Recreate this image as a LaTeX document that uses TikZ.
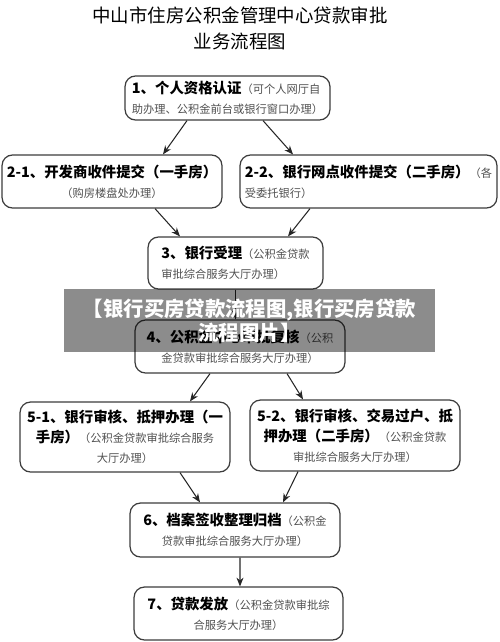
\documentclass[tikz,border=0pt]{standalone}
\usepackage{fontspec}
\setmainfont{Noto Sans CJK SC}
\usetikzlibrary{arrows.meta,calc}
\definecolor{linegray}{RGB}{60,60,60}
\definecolor{notegray}{RGB}{80,80,80}
\newcommand{\gnote}[1]{{\mdseries\fontsize{6.4}{11.5}\selectfont\color{notegray}#1}}

\begin{document}
\begin{tikzpicture}[
	x=0.02cm,y=-0.02cm,
	box/.style={draw=linegray,line width=0.7pt,rounded corners=6pt,inner sep=2pt,
		font=\bfseries\fontsize{8.2}{11.5}\selectfont},
	banner/.style={fill=black,fill opacity=0.45,text opacity=1,text=white,inner sep=0pt,
		align=center,font=\bfseries\fontsize{11.6}{13.6}\selectfont},
	flow/.style={draw=black!85,line width=0.6pt,-{Stealth[length=5pt,width=4pt]}}]
\useasboundingbox (0,0) rectangle (500,642);

\node[font=\fontsize{10.5}{12}\selectfont] (title1) at (240,15) {中山市住房公积金管理中心贷款审批};
\node[font=\fontsize{10.5}{12}\selectfont] (title2) at (240,41) {业务流程图};

\node[box,align=left,minimum width=4.1cm,minimum height=0.88cm] (b1) at (227.5,98)
	{1、个人资格认证\gnote{（可个人网厅自}\\\gnote{助办理、公积金前台或银行窗口办理）}};
\node[box,align=center,minimum width=4.4cm,minimum height=1.06cm] (b21) at (112,181.5)
	{2-1、开发商收件提交（一手房）\\\gnote{（购房楼盘处办理）}};
\node[box,align=left,minimum width=5.14cm,minimum height=1.06cm] (b22) at (368.5,181.5)
	{2-2、银行网点收件提交（二手房）\gnote{（各}\\\gnote{受委托银行）}};
\node[box,align=left,minimum width=3.5cm,minimum height=1.04cm] (b3) at (235.5,263)
	{3、银行受理\gnote{（公积金贷款}\\\gnote{审批综合服务大厅办理）}};
\node[box,align=center,minimum width=4.2cm,minimum height=1.06cm] (b4) at (240,346.5)
	{4、公积金中心审批复核\gnote{（公积}\\\gnote{金贷款审批综合服务大厅办理）}};
\node[box,align=center,minimum width=4.2cm,minimum height=1.4cm] (b51) at (125,437)
	{5-1、银行审核、抵押办理（一\\手房）\gnote{（公积金贷款审批综合服务}\\\gnote{大厅办理）}};
\node[box,align=center,minimum width=4.2cm,minimum height=1.42cm] (b52) at (355,435.5)
	{5-2、银行审核、交易过户、抵\\押办理（二手房）\gnote{（公积金贷款}\\\gnote{审批综合服务大厅办理）}};
\node[box,align=center,minimum width=4.2cm,minimum height=1.08cm] (b6) at (235,530)
	{6、档案签收整理归档\gnote{（公积金}\\\gnote{贷款审批综合服务大厅办理）}};
\node[box,align=center,minimum width=4.18cm,minimum height=1.06cm] (b7) at (238.5,613.5)
	{7、贷款发放\gnote{（公积金贷款审批综}\\\gnote{合服务大厅办理）}};

\draw[flow] ($(b1.south)+(-40.5,0)$) -- ($(b21.north)+(51,0)$);
\draw[flow] ($(b1.south)+(35.5,0)$) -- ($(b22.north)+(-75.5,0)$);
\draw[flow] ($(b21.south)+(43,0)$) -- ($(b3.north)+(-55.5,0)$);
\draw[flow] ($(b22.south)+(-58.5,0)$) -- ($(b3.north)+(52.5,0)$);
\draw[flow] (b3.south) -- (b3.south |- b4.north);
\draw[flow] ($(b4.south)+(-30,0)$) -- ($(b51.north)+(65,0)$);
\draw[flow] ($(b4.south)+(47,0)$) -- ($(b52.north)+(-52,0)$);
\draw[flow] ($(b51.south)+(55,0)$) -- ($(b6.north)+(-35,0)$);
\draw[flow] ($(b52.south)+(-57,0)$) -- ($(b6.north)+(48,0)$);
\draw[flow] ($(b6.south)+(5,0)$) -- ($(b7.north)+(1.5,0)$);

\node[banner,minimum width=7.42cm,minimum height=1.26cm] (mark) at (249.5,320.5)
	{【银行买房贷款流程图,银行买房贷款\\流程图片】};
\end{tikzpicture}
\end{document}
